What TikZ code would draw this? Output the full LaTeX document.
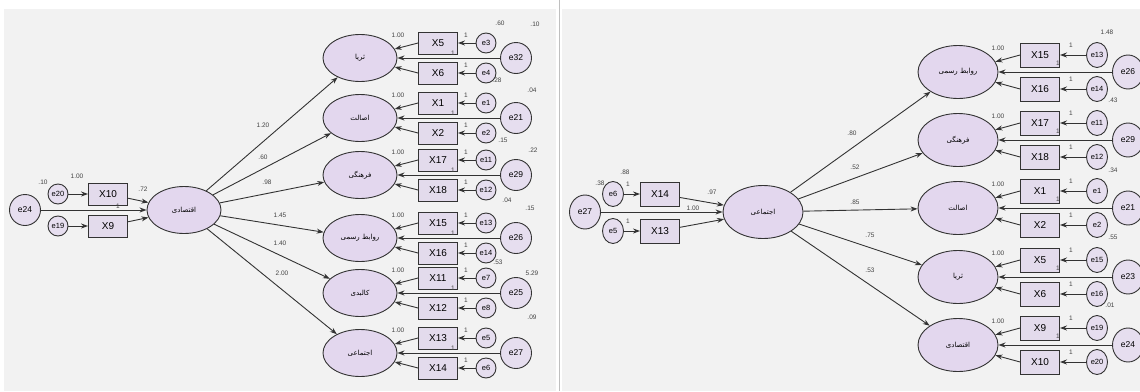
\documentclass[tikz,border=0pt]{standalone}
\usepackage{fontspec}
\setmainfont{Liberation Sans}
\newfontfamily\farsi[Script=Arabic]{DejaVu Sans}
\TeXXeTstate=1
\usetikzlibrary{arrows.meta}
\usetikzlibrary{shapes.geometric}
\definecolor{panelbg}{HTML}{F2F2F2}
\definecolor{latfill}{HTML}{E3D7EE}
\definecolor{obsfill}{HTML}{E3DBEC}
\definecolor{errfill}{HTML}{E6DEEF}
\definecolor{pathgray}{HTML}{333333}
\definecolor{numgray}{HTML}{444444}
\newcommand{\fa}[1]{{\farsi\beginR #1\endR}}
\tikzset{
  lat/.style={ellipse, draw=pathgray, fill=latfill, line width=0.9pt, inner sep=0pt, font=\fontsize{7}{7}\selectfont},
  latL/.style={lat, minimum width=74pt, minimum height=47pt},
  latR/.style={lat, minimum width=80pt, minimum height=53pt},
  obs/.style={rectangle, draw=pathgray, fill=obsfill, line width=0.9pt, inner sep=0pt, font=\fontsize{10}{10}\selectfont},
  obsL/.style={obs, minimum width=39pt, minimum height=22pt},
  obsR/.style={obs, minimum width=39pt, minimum height=24pt},
  err/.style={ellipse, draw=pathgray, fill=errfill, line width=0.9pt, inner sep=0pt, font=\fontsize{7.5}{7.5}\selectfont},
  errL/.style={err, minimum width=20pt, minimum height=20pt},
  errR/.style={err, minimum width=21pt, minimum height=25pt},
  derrL/.style={err, minimum width=31pt, minimum height=31pt, font=\fontsize{8.5}{8.5}\selectfont},
  derrR/.style={err, minimum width=31pt, minimum height=34pt, font=\fontsize{8.5}{8.5}\selectfont},
  reg/.style={draw=pathgray, line width=0.9pt, -{Stealth[length=7pt,width=5pt]}},
  num/.style={text=numgray, inner sep=0pt, font=\fontsize{6.5}{6.5}\selectfont}
}
\begin{document}
\begin{tikzpicture}[x=1pt,y=-1pt]
\useasboundingbox (0,0) rectangle (1140,391);
\fill[white] (0,0) rectangle (1140,391);
\fill[panelbg] (4,9) rectangle (556,391);
\fill[panelbg] (562,9) rectangle (1140,391);
\draw[gray!50] (559,0) -- (559,391);

% left panel: second order factor
\node[latL] (econL) at (184,210) {\fa{اقتصادی}};
\node[obsL] (x10L) at (108,194) {X10};
\node[obsL] (x9L) at (108,226) {X9};
\node[errL] (e20L) at (58,194) {e20};
\node[errL] (e19L) at (58,226) {e19};
\node[derrL] (e24L) at (25,210) {e24};
\draw[reg] (e20L) -- (x10L);
\draw[reg] (e19L) -- (x9L);
\draw[reg] (x10L) -- (econL);
\draw[reg] (x9L) -- (econL);
\draw[reg] (e24L) -- (econL);
\node[num] (v24L) at (43,182) {.10};
\node[num] (w10L) at (77,176) {1.00};
\node[num] (w9L) at (143,189) {.72};
\node[num] (f24L) at (118,206) {1};

% left panel: first order factors
\foreach \g/\yc/\ta/\tb/\ea/\eb/\ed/\txt/\w/\wx/\wy in {
  ta/58/X5/X6/e3/e4/e32/ثریا/1.20/263/125,
  as/118/X1/X2/e1/e2/e21/اصالت/.60/263/157,
  fa/175/X17/X18/e11/e12/e29/فرهنگی/.98/267/182,
  rr/238/X15/X16/e13/e14/e26/روابط رسمی/1.45/280/215,
  kb/293/X11/X12/e7/e8/e25/کالبدی/1.40/280/243,
  ej/353/X13/X14/e5/e6/e27/اجتماعی/2.00/282/273}{
  \node[latL] (L\g) at (360,\yc) {\fa{\txt}};
  \node[obsL] (L\g a) at (438,\yc-15) {\ta};
  \node[obsL] (L\g b) at (438,\yc+15) {\tb};
  \node[errL] (L\g ea) at (486,\yc-15) {\ea};
  \node[errL] (L\g eb) at (486,\yc+15) {\eb};
  \node[derrL] (L\g d) at (516,\yc) {\ed};
  \draw[reg] (L\g ea) -- (L\g a);
  \draw[reg] (L\g eb) -- (L\g b);
  \draw[reg] (L\g a.west) -- (L\g);
  \draw[reg] (L\g b.west) -- (L\g);
  \draw[reg] (L\g d) -- (L\g);
  \draw[reg] (econL) -- (L\g);
  \node[num] (L\g w) at (\wx,\wy) {\w};
  \node[num] (L\g one) at (398,\yc-23) {1.00};
  \node[num] (L\g fa) at (466,\yc-23) {1};
  \node[num] (L\g fb) at (466,\yc+7) {1};
  \node[num] (L\g fd) at (453,\yc-5) {1};
}
\node[num] (v15L) at (500,23) {.60};
\node[num] (v32L) at (535,24) {.10};
\node[num] (v16L) at (497,80) {.28};
\node[num] (v21L) at (532,90) {.04};
\node[num] (v2L) at (503,140) {.15};
\node[num] (v29L) at (533,150) {.22};
\node[num] (v12L) at (507,200) {.04};
\node[num] (v26L) at (530,208) {.15};
\node[num] (v14L) at (498,262) {.53};
\node[num] (v25L) at (532,273) {5.29};
\node[num] (v27L) at (532,317) {.09};

% right panel: second order factor
\node[latR] (socR) at (763,212) {\fa{اجتماعی}};
\node[obsR] (x14R) at (660,194) {X14};
\node[obsR] (x13R) at (660,231) {X13};
\node[errR] (e6R) at (613,194) {e6};
\node[errR] (e5R) at (613,231) {e5};
\node[derrR] (e27R) at (585,212) {e27};
\draw[reg] (e6R) -- (x14R);
\draw[reg] (e5R) -- (x13R);
\draw[reg] (x14R) -- (socR);
\draw[reg] (x13R) -- (socR);
\draw[reg] (e27R) -- (socR);
\node[num] (v6R) at (625,172) {.88};
\node[num] (v27R) at (600,183) {.38};
\node[num] (f6R) at (628,184) {1};
\node[num] (f5R) at (628,221) {1};
\node[num] (w14R) at (712,192) {.97};
\node[num] (w27R) at (693,208) {1.00};

% right panel: first order factors
\foreach \g/\yc/\ta/\tb/\ea/\eb/\ed/\txt/\w/\wx/\wy in {
  rr/72/X15/X16/e13/e14/e26/روابط رسمی/.80/852/133,
  fa/140/X17/X18/e11/e12/e29/فرهنگی/.52/855/167,
  as/208/X1/X2/e1/e2/e21/اصالت/.85/855/202,
  ta/277/X5/X6/e15/e16/e23/ثریا/.75/870/235,
  eq/345/X9/X10/e19/e20/e24/اقتصادی/.53/870/270}{
  \node[latR] (R\g) at (958,\yc) {\fa{\txt}};
  \node[obsR] (R\g a) at (1040,\yc-17) {\ta};
  \node[obsR] (R\g b) at (1040,\yc+17) {\tb};
  \node[errR] (R\g ea) at (1097,\yc-17) {\ea};
  \node[errR] (R\g eb) at (1097,\yc+17) {\eb};
  \node[derrR] (R\g d) at (1128,\yc) {\ed};
  \draw[reg] (R\g ea) -- (R\g a);
  \draw[reg] (R\g eb) -- (R\g b);
  \draw[reg] (R\g a.west) -- (R\g);
  \draw[reg] (R\g b.west) -- (R\g);
  \draw[reg] (R\g d) -- (R\g);
  \draw[reg] (socR) -- (R\g);
  \node[num] (R\g w) at (\wx,\wy) {\w};
  \node[num] (R\g one) at (998,\yc-24) {1.00};
  \node[num] (R\g fa) at (1071,\yc-27) {1};
  \node[num] (R\g fb) at (1071,\yc+7) {1};
  \node[num] (R\g fd) at (1058,\yc-9) {1};
}
\node[num] (v26R) at (1107,32) {1.48};
\node[num] (v14R) at (1113,100) {.43};
\node[num] (v12R) at (1113,170) {.34};
\node[num] (v2R) at (1113,237) {.55};
\node[num] (v16R) at (1110,305) {.01};
\end{tikzpicture}
\end{document}
